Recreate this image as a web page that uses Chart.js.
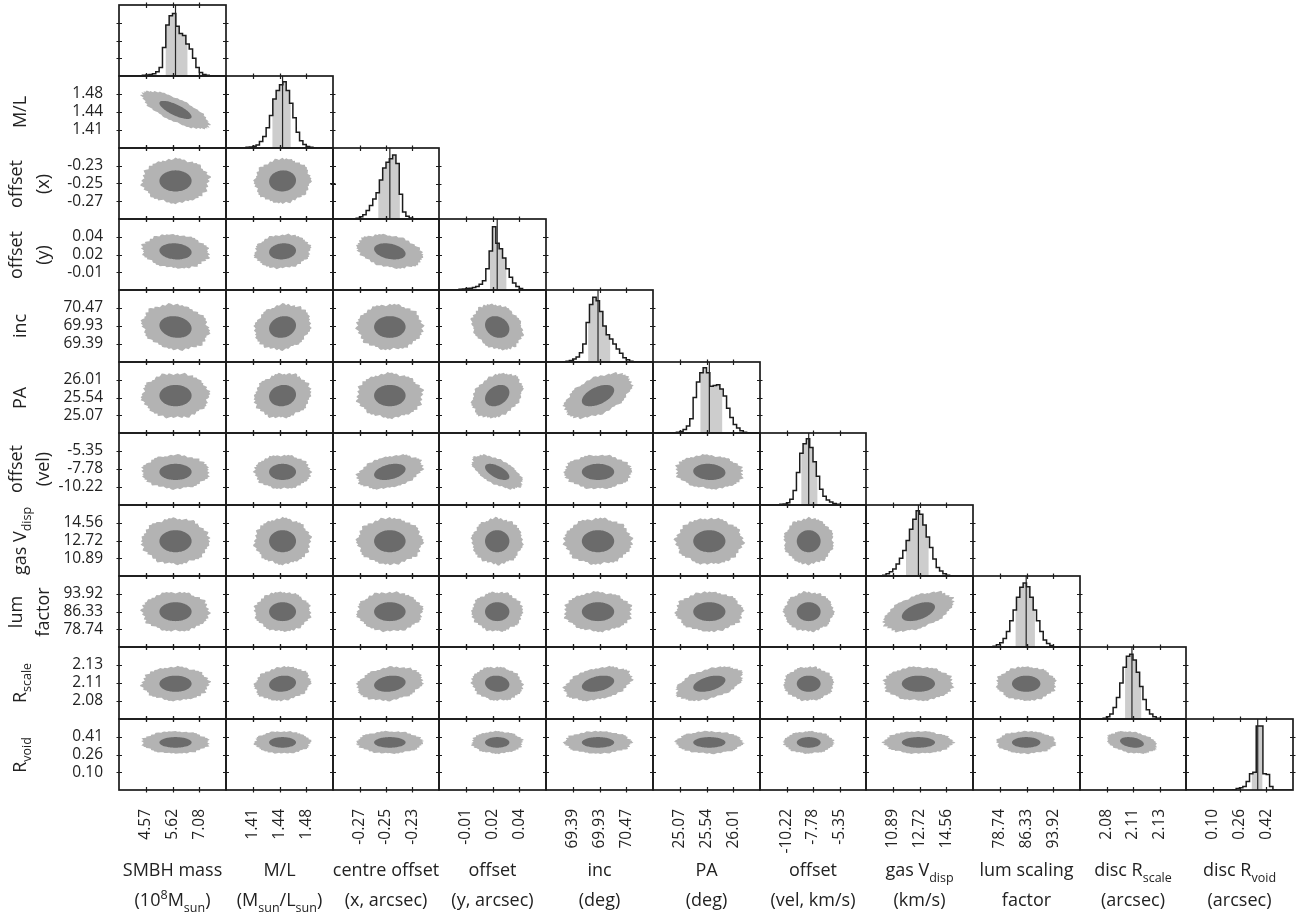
<!DOCTYPE html>
<html>
<head>
<meta charset="utf-8">
<title>Posterior corner plot</title>
<script src="https://cdn.jsdelivr.net/npm/chart.js@4"></script>
<style>
  html, body { margin: 0; padding: 0; background: #fff; }
  #fig { position: relative; width: 1300px; height: 912px; overflow: hidden; background: #fff;
         font-family: 'Open Sans', sans-serif; color: #222; }
  #fig canvas { position: absolute; }
  .ttl { position: absolute; white-space: nowrap; font-size: 18px; text-align: center; }
  .ttl sub, .ttl sup { font-size: 12.5px; line-height: 0; }
  .ttl sub { vertical-align: -0.45em; }
  .ttl sup { vertical-align: 0.55em; }
  .ytl { line-height: 27px; transform: translate(-50%, -50%) rotate(-90deg); }
  .xtl { line-height: 30px; transform: translateX(-50%); }
</style>
</head>
<body>
<div id="fig"></div>
<script>
// ---------------- parameters ----------------
// tick labels along each parameter axis, in ascending order
const xTickLabels = [
  ['4.57', '5.62', '7.08'],
  ['1.41', '1.44', '1.48'],
  ['-0.27', '-0.25', '-0.23'],
  ['-0.01', '0.02', '0.04'],
  ['69.39', '69.93', '70.47'],
  ['25.07', '25.54', '26.01'],
  ['-10.22', '-7.78', '-5.35'],
  ['10.89', '12.72', '14.56'],
  ['78.74', '86.33', '93.92'],
  ['2.08', '2.11', '2.13'],
  ['0.10', '0.26', '0.42']
];
const yTickLabels = [
  [],
  ['1.41', '1.44', '1.48'],
  ['-0.27', '-0.25', '-0.23'],
  ['-0.01', '0.02', '0.04'],
  ['69.39', '69.93', '70.47'],
  ['25.07', '25.54', '26.01'],
  ['-10.22', '-7.78', '-5.35'],
  ['10.89', '12.72', '14.56'],
  ['78.74', '86.33', '93.92'],
  ['2.08', '2.11', '2.13'],
  ['0.10', '0.26', '0.41']
];
// SMBH mass is sampled in log space
const logAxis = [true, false, false, false, false, false, false, false, false, false, false];

// posterior medians and 68% intervals
const medians = [5.83, 1.449, -0.2471, 0.0194, 69.90, 25.59, -8.18, 12.65, 86.24, 2.104, 0.369];
const lower68 = [5.37, 1.4355, -0.2559, 0.0125, 69.70, 25.43, -8.87, 11.79, 83.17, 2.0975, 0.332];
const upper68 = [6.44, 1.4598, -0.2395, 0.0282, 70.15, 25.82, -7.36, 13.36, 88.73, 2.113, 0.398];

// marginal histograms: 32 bins over each axis range, peak-normalised (percent of panel height)
const histSMBH   = [0,0,0,0,0,0,0.5,1,1.5,2,3,6,12,40,72,85,88,70,60,57,45,38,25,12,5,2,1,0.3,0,0,0,0];
const histML     = [0,0,0,0,0,0.5,1,1.5,2.5,4,9,16,28,45,68,80,88,92,80,62,42,22,10,5,2,1,0.5,0,0,0,0,0];
const histOffX   = [0,0,0,0,0,0,0,1,3,6,12,19,28,37,55,72,80,85,90,78,35,10,4,1.5,0.5,0,0,0,0,0,0,0];
const histOffY   = [0,0,0,0,0,0.5,1,1.5,2,2.5,3.5,5,8,13,30,55,89,66,58,45,30,18,10,5,2,0.5,0,0,0,0,0,0];
const histInc    = [0,0,0,0,0,0.5,1,2,4,7,13,25,55,80,90,85,70,50,38,32,25,18,12,6,3,1,0.5,0,0,0,0,0];
const histPA     = [0,0,0,0,0,0,0.5,1,2,5,10,20,50,72,85,92,85,66,67,68,62,52,35,22,12,7,3,1,0.5,0,0,0];
const histVel    = [0,0,0,0,0,0.5,1,1.5,3,8,20,45,72,85,92,80,60,40,22,12,7,4,2,1,0.5,0,0,0,0,0,0,0];
const histVdisp  = [0,0,0,0,0.5,1,3,6,10,17,25,36,50,66,80,92,87,72,55,40,24,12,7,3,1,0.5,0,0,0,0,0,0];
const histLum    = [0,0,0,0,0,0,1,3,6,12,22,37,52,70,84,90,85,70,52,37,22,10,5,2,0.5,0,0,0,0,0,0,0];
const histRscale = [0,0,0,0,0,0,0.5,1,3,7,16,30,50,72,87,90,82,65,45,27,13,7,3,1,0.5,0,0,0,0,0,0,0];
const histRvoid  = [0,0,0,0,0,0,0,0,0,0,0,0,0,0,0.5,2,3,5,12,23,25,90,90,23,22,5,0.5,0,0,0,0,0];
const histograms = [histSMBH, histML, histOffX, histOffY, histInc, histPA, histVel, histVdisp, histLum, histRscale, histRvoid];

// correlation coefficients, lower triangle: corrRows[i][j] pairs parameter i with j
const corrRows = [
  [],
  [-0.75],
  [0.0, 0.05],
  [-0.12, 0.1, -0.3],
  [-0.15, 0.15, 0.0, -0.2],
  [0.0, 0.1, 0.0, 0.3, 0.5],
  [0.0, 0.0, 0.35, -0.6, 0.0, -0.1],
  [0.0, 0.0, 0.0, 0.0, 0.0, 0.0, 0.0],
  [0.0, 0.0, 0.0, 0.0, 0.0, 0.0, 0.0, 0.5],
  [0.0, 0.15, 0.2, -0.1, 0.35, 0.45, 0.0, 0.0, 0.0],
  [0.0, 0.0, 0.0, 0.0, 0.0, 0.0, 0.0, 0.0, 0.0, -0.3]
];

// axis titles
const rowTitles = [null, ['M/L'], ['offset', '(x)'], ['offset', '(y)'], ['inc'], ['PA'],
  ['offset', '(vel)'], ['gas V<sub>disp</sub>'], ['lum', 'factor'], ['R<sub>scale</sub>'], ['R<sub>void</sub>']];
const colTitles = [
  ['SMBH mass', '(10<sup>8</sup>M<sub>sun</sub>)'],
  ['M/L', '(M<sub>sun</sub>/L<sub>sun</sub>)'],
  ['centre offset', '(x, arcsec)'],
  ['offset', '(y, arcsec)'],
  ['inc', '(deg)'],
  ['PA', '(deg)'],
  ['offset', '(vel, km/s)'],
  ['gas V<sub>disp</sub>', '(km/s)'],
  ['lum scaling', 'factor'],
  ['disc R<sub>scale</sub>', '(arcsec)'],
  ['disc R<sub>void</sub>', '(arcsec)']
];

// ---------------- styling / layout ----------------
const NP = 11, NBINS = 32;
const X0 = 119.3, CW = 106.7, Y0 = 5, CH = 71.36;
const PAD = 4, BH = 70;
const INNER_R = 1.45, OUTER_R = 3.0;       // contour levels in units of sigma
const OUTER_COL = '#b3b3b3', INNER_COL = '#6b6b6b', BAND_COL = '#cdcdcd', INK = '#1c1c1c';
// small radial irregularity applied around the outer contour edge
const edgeJitter = [1.00,1.04,0.98,1.06,1.02,0.97,1.03,1.07,1.01,0.96,1.02,0.98,0.94,0.99,1.03,0.97,
                    1.05,1.08,1.02,0.98,1.04,1.00,0.95,0.99,0.96,1.02,1.06,1.01,1.04,0.98,1.03,0.97,
                    0.93,0.98,1.02,0.99,1.05,1.02,1.07,1.00,0.97,1.03,0.99,0.95,1.01,0.97,1.04,1.02];

const colEdge = k => Math.round(X0 + CW * k);
const rowEdge = k => Math.round(Y0 + CH * k);

const toAxis = (p, v) => logAxis[p] ? Math.log10(v) : v;
const fromAxis = (p, u) => logAxis[p] ? Math.pow(10, u) : u;

function axisRange(p) {
  const t = xTickLabels[p].map(Number).map(v => toAxis(p, v));
  const d = (t[2] - t[0]) / 2;
  return [t[0] - d, t[2] + d];
}
function tickValues(p) {
  const [lo, hi] = axisRange(p);
  return [0.25, 0.5, 0.75].map(q => fromAxis(p, lo + (hi - lo) * q));
}
const sigmaAxis = p => (toAxis(p, upper68[p]) - toAxis(p, lower68[p])) / 2;

// frame with tick marks crossing all four sides
const framePlugin = {
  id: 'frame',
  afterDatasetsDraw(chart, args, opts) {
    const { ctx, chartArea: a, scales } = chart;
    ctx.save();
    ctx.strokeStyle = INK;
    ctx.lineWidth = 1.2;
    ctx.beginPath();
    (opts.xt || []).forEach(v => {
      const px = Math.round(scales.x.getPixelForValue(v)) + 0.5;
      ctx.moveTo(px, a.top - 2.5); ctx.lineTo(px, a.top + 3);
      ctx.moveTo(px, a.bottom - 3); ctx.lineTo(px, a.bottom + 2.5);
    });
    (opts.yt || []).forEach(v => {
      const py = Math.round(scales.y.getPixelForValue(v)) + 0.5;
      ctx.moveTo(a.left - 2.5, py); ctx.lineTo(a.left + 3, py);
      ctx.moveTo(a.right - 3, py); ctx.lineTo(a.right + 2.5, py);
    });
    ctx.stroke();
    ctx.lineWidth = 1.7;
    ctx.strokeRect(a.left, a.top, a.right - a.left, a.bottom - a.top);
    ctx.restore();
  }
};
Chart.register(framePlugin);

function paramScale(p, show, labels, isX) {
  const [lo, hi] = axisRange(p);
  const tv = tickValues(p);
  const cfg = {
    type: logAxis[p] ? 'logarithmic' : 'linear',
    min: fromAxis(p, lo),
    max: fromAxis(p, hi),
    display: show,
    grid: { display: false },
    border: { display: false },
    afterBuildTicks: s => { s.ticks = tv.map(v => ({ value: v })); },
    ticks: {
      autoSkip: false,
      color: '#222',
      font: { family: "'Open Sans', sans-serif", size: 15.5 },
      callback: (val, idx) => labels[idx]
    }
  };
  if (show) {
    if (isX) {
      cfg.ticks.minRotation = 90;
      cfg.ticks.maxRotation = 90;
      cfg.ticks.padding = 11;
      cfg.afterFit = s => { s.height = BH; s.paddingLeft = 0; s.paddingRight = 0; };
    } else {
      cfg.ticks.padding = 8;
      cfg.afterFit = s => { s.width = colEdge(0); s.paddingTop = 0; s.paddingBottom = 0; };
    }
  }
  return cfg;
}

function contour(i, j, r, rough) {
  const mx = toAxis(j, medians[j]), my = toAxis(i, medians[i]);
  const sx = sigmaAxis(j), sy = sigmaAxis(i);
  const rho = corrRows[i][j];
  const q = Math.sqrt(1 - rho * rho);
  const N = 96, off = (i * 7 + j * 13) % edgeJitter.length;
  const pts = [];
  for (let k = 0; k <= N; k++) {
    const t = 2 * Math.PI * (k % N) / N;
    const f = rough ? edgeJitter[((k % N) + off) % edgeJitter.length] : 1;
    const u = Math.cos(t), v = Math.sin(t);
    pts.push({
      x: fromAxis(j, mx + r * f * sx * u),
      y: fromAxis(i, my + r * f * sy * (rho * u + q * v))
    });
  }
  return pts;
}

function histDatasets(p) {
  const [lo, hi] = axisRange(p);
  const counts = histograms[p];
  const edge = k => fromAxis(p, lo + (hi - lo) * k / NBINS);
  const binOf = v => Math.min(NBINS - 1, Math.max(0, Math.floor((toAxis(p, v) - lo) / (hi - lo) * NBINS)));
  const outline = counts.map((c, k) => ({ x: edge(k), y: c }));
  outline.push({ x: edge(NBINS), y: 0 });
  const ka = binOf(lower68[p]), kb = binOf(upper68[p]);
  const band = [{ x: lower68[p], y: counts[ka] }];
  for (let k = ka + 1; k <= kb; k++) band.push({ x: edge(k), y: counts[k] });
  band.push({ x: upper68[p], y: counts[kb] });
  const common = { pointRadius: 0, tension: 0 };
  return [
    { ...common, data: band, stepped: true, borderWidth: 0, backgroundColor: BAND_COL, fill: 'origin', order: 3 },
    { ...common, data: outline, stepped: true, borderWidth: 1.5, borderColor: INK, fill: false, order: 2 },
    { ...common, data: [{ x: medians[p], y: 0 }, { x: medians[p], y: 100 }], borderWidth: 1.2, borderColor: '#262626', fill: false, order: 1 }
  ];
}

const fig = document.getElementById('fig');

for (let i = 0; i < NP; i++) {
  for (let j = 0; j <= i; j++) {
    const leftLabels = (j === 0 && i > 0);
    const bottomLabels = (i === NP - 1);
    const cl = leftLabels ? 0 : colEdge(j) - PAD;
    const ct = rowEdge(i) - PAD;
    const cr = colEdge(j + 1) + PAD;
    const cb = bottomLabels ? rowEdge(i + 1) + BH : rowEdge(i + 1) + PAD;
    const canvas = document.createElement('canvas');
    canvas.width = cr - cl; canvas.height = cb - ct;
    canvas.style.left = cl + 'px'; canvas.style.top = ct + 'px';
    canvas.style.width = (cr - cl) + 'px'; canvas.style.height = (cb - ct) + 'px';
    fig.appendChild(canvas);

    const diag = (i === j);
    const xScale = paramScale(j, bottomLabels, xTickLabels[j], true);
    const yScale = diag
      ? { type: 'linear', min: 0, max: 100, display: false }
      : paramScale(i, leftLabels, yTickLabels[i], false);

    const datasets = diag ? histDatasets(i) : [
      { data: contour(i, j, OUTER_R, true), pointRadius: 0, borderWidth: 0, backgroundColor: OUTER_COL, fill: 'shape', tension: 0, order: 2 },
      { data: contour(i, j, INNER_R, false), pointRadius: 0, borderWidth: 0, backgroundColor: INNER_COL, fill: 'shape', tension: 0.2, order: 1 }
    ];

    new Chart(canvas, {
      type: 'line',
      data: { datasets },
      options: {
        responsive: false,
        maintainAspectRatio: false,
        animation: false,
        devicePixelRatio: 1,
        events: [],
        layout: { padding: { left: leftLabels ? 0 : PAD, top: PAD, right: PAD, bottom: bottomLabels ? 0 : PAD } },
        scales: { x: xScale, y: yScale },
        plugins: {
          legend: { display: false },
          tooltip: { enabled: false },
          frame: { xt: tickValues(j), yt: diag ? [25, 50, 75] : tickValues(i) }
        }
      }
    });
  }
}

// row (y) titles, rotated
for (let i = 1; i < NP; i++) {
  const d = document.createElement('div');
  d.className = 'ttl ytl';
  d.innerHTML = rowTitles[i].join('<br>');
  d.style.left = (rowTitles[i].length > 1 ? 29 : 19) + 'px';
  d.style.top = ((rowEdge(i) + rowEdge(i + 1)) / 2) + 'px';
  fig.appendChild(d);
}
// column (x) titles
for (let j = 0; j < NP; j++) {
  const d = document.createElement('div');
  d.className = 'ttl xtl';
  d.innerHTML = colTitles[j].join('<br>');
  d.style.left = ((colEdge(j) + colEdge(j + 1)) / 2) + 'px';
  d.style.top = '854px';
  fig.appendChild(d);
}
</script>
</body>
</html>
